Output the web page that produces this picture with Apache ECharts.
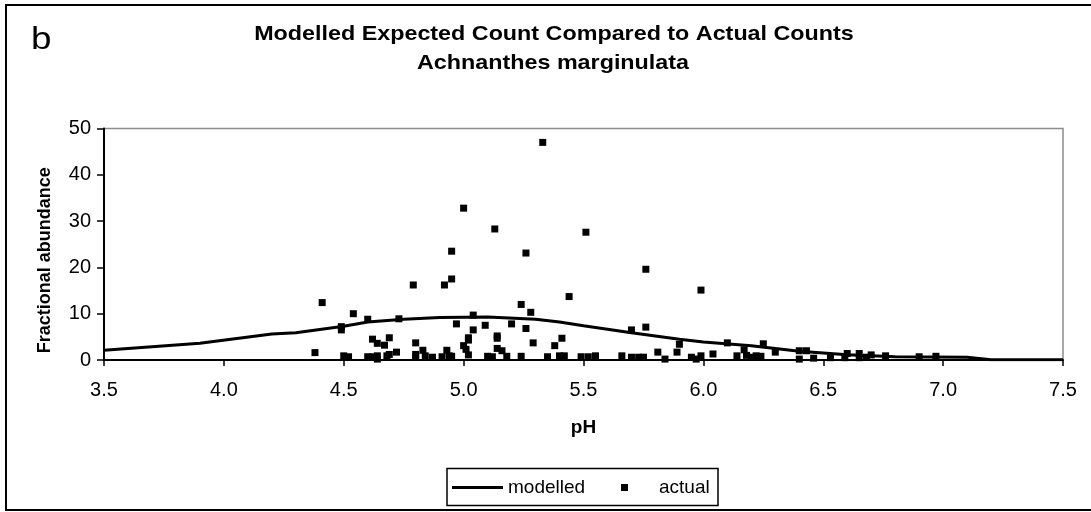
<!DOCTYPE html>
<html>
<head>
<meta charset="utf-8">
<script src="https://cdn.jsdelivr.net/npm/echarts@6/dist/echarts.min.js"></script>
<style>
html,body{margin:0;padding:0;background:#fff;}
#box{width:1091px;height:512px;}
</style>
</head>
<body>
<div id="box"></div>
<script>
// modelled curve (pH, expected count)
var modelPH  = [3.5, 3.9, 4.2, 4.3, 4.5, 4.6, 4.75, 4.9, 5.1, 5.3, 5.4, 5.5, 5.7, 5.9, 6.0, 6.2, 6.4, 6.6, 6.8, 7.1, 7.2, 7.5];
var modelVal = [2.1, 3.6, 5.6, 5.9, 7.3, 8.2, 8.8, 9.2, 9.3, 8.8, 8.2, 7.4, 5.9, 4.5, 3.9, 3.1, 1.9, 1.15, 0.7, 0.6, 0.05, 0.05];

// actual counts (pH, abundance)
var actualPH = [
	4.38, 4.41, 4.49, 4.49, 4.50, 4.52, 4.54, 4.60, 4.60, 4.62, 4.62, 4.64, 4.64, 4.64, 4.67, 4.68, 4.69, 4.69, 4.72, 4.73,
	4.79, 4.80, 4.80, 4.80, 4.83, 4.84, 4.87, 4.91, 4.92, 4.93, 4.94, 4.95, 4.95, 4.95, 4.97, 5.00, 5.00, 5.01, 5.02, 5.02,
	5.02, 5.04, 5.04, 5.09, 5.10, 5.12, 5.13, 5.14, 5.14, 5.14, 5.16, 5.18, 5.20, 5.24, 5.24, 5.26, 5.26, 5.28, 5.29, 5.33,
	5.35, 5.38, 5.40, 5.41, 5.42, 5.44, 5.49, 5.51, 5.52, 5.55, 5.66, 5.70, 5.70, 5.73, 5.75, 5.76, 5.76, 5.81, 5.84, 5.89,
	5.90, 5.95, 5.97, 5.99, 5.99, 6.04, 6.10, 6.14, 6.17, 6.18, 6.20, 6.22, 6.24, 6.25, 6.30, 6.40, 6.40, 6.43, 6.46, 6.53,
	6.59, 6.60, 6.65, 6.65, 6.68, 6.70, 6.76, 6.90, 6.97
];
var actualVal = [
	1.6, 12.4, 7.2, 6.5, 0.9, 0.7, 10.0, 8.8, 0.7, 4.5, 0.7, 3.6, 0.9, 0.2, 3.2, 0.9, 4.8, 1.2, 1.7, 8.9,
	16.2, 3.7, 1.2, 0.6, 2.1, 0.9, 0.6, 0.7, 16.2, 2.1, 0.9, 17.5, 23.5, 0.8, 7.8, 32.8, 3.1, 2.3, 4.8, 4.3,
	1.1, 9.7, 6.5, 7.5, 0.8, 0.7, 28.3, 5.2, 4.7, 2.5, 2.0, 0.8, 7.8, 12.0, 0.8, 23.1, 6.8, 10.3, 3.7, 47.0,
	0.7, 3.1, 0.9, 4.7, 0.9, 13.7, 0.7, 27.6, 0.7, 0.9, 0.9, 6.5, 0.6, 0.6, 0.6, 19.6, 7.1, 1.7, 0.2, 1.7,
	3.4, 0.6, 0.2, 0.9, 15.1, 1.3, 3.7, 0.9, 2.2, 1.0, 0.6, 0.9, 0.8, 3.5, 1.7, 2.0, 0.2, 2.0, 0.4, 0.5,
	0.5, 1.4, 1.4, 0.5, 0.6, 1.1, 0.9, 0.7, 0.8
];

var xTicks = [3.5, 4.0, 4.5, 5.0, 5.5, 6.0, 6.5, 7.0, 7.5];

var font = "'Liberation Sans', Arial, sans-serif";

var modelData = modelPH.map(function (p, i) { return [p, modelVal[i]]; });
var actualData = actualPH.map(function (p, i) { return [p, actualVal[i]]; });

var option = {
	animation: false,
	backgroundColor: '#fff',
	textStyle: { fontFamily: font, color: '#000' },
	graphic: [
		// outer chart border
		{ type: 'rect', shape: { x: 6, y: 5, width: 1110, height: 505 }, style: { fill: 'none', stroke: '#000', lineWidth: 2 }, silent: true },
		{ type: 'text', x: 31, y: 40, style: { text: 'b', font: '32px ' + font, fill: '#000', textAlign: 'left', textVerticalAlign: 'middle' }, scaleX: 1.15 },
		{ type: 'text', x: 554, y: 34, scaleX: 1.11, style: { text: 'Modelled Expected Count Compared to Actual Counts', font: 'bold 21px ' + font, fill: '#000', textAlign: 'center', textVerticalAlign: 'middle' } },
		{ type: 'text', x: 553, y: 63, scaleX: 1.11, style: { text: 'Achnanthes marginulata', font: 'bold 21px ' + font, fill: '#000', textAlign: 'center', textVerticalAlign: 'middle' } },
		// legend box
		{ type: 'rect', shape: { x: 447, y: 468.5, width: 271, height: 37 }, style: { fill: 'none', stroke: '#000', lineWidth: 1.5 }, silent: true }
	],
	legend: [
		{
			data: [{ name: 'modelled', icon: 'rect' }],
			left: 452, top: 478, padding: 0,
			itemWidth: 51, itemHeight: 3,
			itemStyle: { opacity: 1 },
			textStyle: { fontFamily: font, fontSize: 19, color: '#000' }
		},
		{
			data: [{ name: 'actual', icon: 'rect' }],
			left: 621, top: 478, padding: 0,
			itemWidth: 7, itemHeight: 7,
			itemStyle: { opacity: 1 },
			textStyle: { fontFamily: font, fontSize: 19, color: '#000', padding: [0, 0, 0, 26] }
		}
	],
	grid: {
		left: 104, right: 28, top: 128.5, bottom: 152,
		show: true, borderColor: '#8c8c8c', borderWidth: 1.5,
		containLabel: false
	},
	xAxis: {
		type: 'value', min: 3.5, max: 7.5, interval: 0.5,
		name: 'pH', nameLocation: 'middle', nameGap: 58,
		nameTextStyle: { fontFamily: font, fontSize: 19, fontWeight: 'bold', color: '#000' },
		axisLine: { lineStyle: { color: '#000', width: 2 } },
		axisTick: { length: 6, lineStyle: { color: '#000', width: 1.5 } },
		axisLabel: {
			margin: 20, fontSize: 20, color: '#000', fontFamily: font,
			formatter: function (v) { return v.toFixed(1); },
			customValues: xTicks
		},
		splitLine: { show: false }
	},
	yAxis: {
		type: 'value', min: 0, max: 50, interval: 10,
		name: 'Fractional abundance', nameLocation: 'middle', nameGap: 50, nameRotate: 90,
		nameTextStyle: { fontFamily: font, fontSize: 18, fontWeight: 'bold', color: '#000', padding: [0, 32, 0, 0] },
		axisLine: { show: true, lineStyle: { color: '#000', width: 2 } },
		axisTick: { show: true, length: 7, lineStyle: { color: '#000', width: 1.5 } },
		axisLabel: { margin: 13, fontSize: 20, color: '#000', fontFamily: font },
		splitLine: { show: false }
	},
	series: [
		{
			name: 'modelled', type: 'line', data: modelData,
			symbol: 'none', smooth: false,
			lineStyle: { color: '#000', width: 3 },
			itemStyle: { color: '#000', opacity: 1 },
			z: 3
		},
		{
			name: 'actual', type: 'scatter', data: actualData,
			symbol: 'rect', symbolSize: 7,
			itemStyle: { color: '#000', opacity: 1 },
			z: 4
		}
	]
};

var chart = echarts.init(document.getElementById('box'));
chart.setOption(option);
</script>
</body>
</html>
